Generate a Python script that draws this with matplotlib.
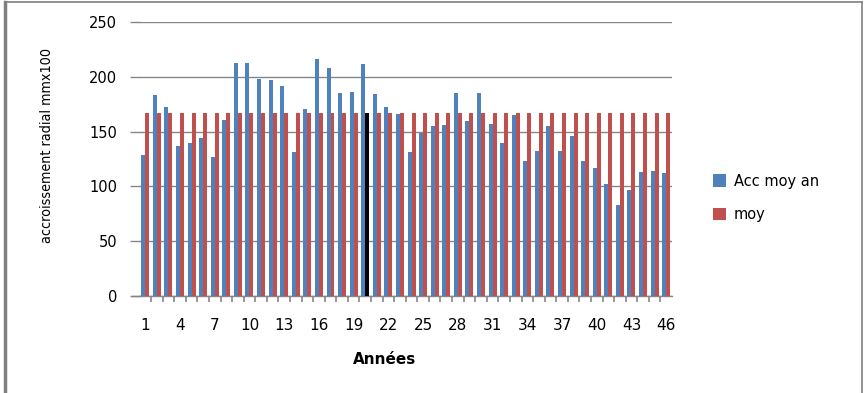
import matplotlib
matplotlib.use("Agg")
import matplotlib.pyplot as plt
from matplotlib.lines import Line2D
import numpy as np

# Annual mean radial growth (mm x 100) and the overall mean
years = list(range(1, 47))
acc_moy_an = [129, 183, 172, 137, 140, 144, 127, 161, 213, 213,
              198, 197, 192, 131, 171, 216, 208, 185, 186, 212,
              184, 172, 166, 131, 149, 155, 156, 185, 160, 185,
              157, 140, 165, 123, 132, 155, 132, 146, 123, 117,
              102, 83, 97, 113, 114, 112]
moy = [167] * 46
highlight_year = 20
y_ticks = [0, 50, 100, 150, 200, 250]
x_labels = list(range(1, 47, 3))

BLUE = "#4F81BD"
RED = "#C0504D"
GRID = "#868686"

fig = plt.figure(figsize=(8.64, 3.93), dpi=100)
ax = fig.add_axes([139.5 / 864, 1 - 296 / 393, (672 - 139.5) / 864, (296 - 22) / 393])

x = np.array(years, dtype=float)
w = 0.345
ax.bar(x - w / 2, acc_moy_an, width=w, color=BLUE, label="Acc moy an", zorder=3)
red_colors = ["black" if yr == highlight_year else RED for yr in years]
ax.bar(x + w / 2, moy, width=w, color=red_colors, label="moy", zorder=3)

ax.set_xlim(0.5, 46.5)
ax.set_ylim(0, 250)

# horizontal grid
ax.set_yticks(y_ticks)
ax.yaxis.grid(True, color=GRID, linewidth=1.0, zorder=0)
ax.set_axisbelow(True)
ax.tick_params(axis="y", length=7, width=1.0, color=GRID, pad=9,
               labelsize=10.5, labelcolor="black")

# category labels every third year; boundary ticks between categories
ax.set_xticks(x_labels)
ax.set_xticklabels([str(v) for v in x_labels])
ax.tick_params(axis="x", which="major", length=0, pad=16, labelsize=11)
ax.set_xticks(np.arange(1.5, 46, 1.0), minor=True)
ax.tick_params(axis="x", which="minor", length=4, width=1.2, color=GRID)

for s in ["left", "right", "top"]:
    ax.spines[s].set_visible(False)
ax.spines["bottom"].set_color(GRID)
ax.spines["bottom"].set_linewidth(1.0)

# extend the baseline to the left like the gridlines
ax.plot([-0.15, 0.5], [0, 0], color=GRID, lw=1.0, clip_on=False, zorder=1)

ax.set_ylabel("accroissement radial mmx100",
              family=["DejaVu Sans"], fontstretch="condensed", fontsize=10.3)
ax.yaxis.set_label_coords(-(139.5 - 47) / (672 - 139.5), 0.551)
ax.yaxis.label.set_horizontalalignment("center")
ax.yaxis.label.set_verticalalignment("center")

fig.text(385 / 864, 1 - 360 / 393, "Années", ha="center", va="center",
         fontsize=11, fontweight="bold")

ax.legend(loc="center left", bbox_to_anchor=(700 / 864, 1 - 198 / 393),
          bbox_transform=fig.transFigure, frameon=False, fontsize=10.5,
          handlelength=0.9, handleheight=0.9, handletextpad=0.5,
          labelspacing=1.3)

# outer frame
fig.add_artist(Line2D([4.5 / 864, 4.5 / 864], [0, 1 - 2 / 393], color="#808080", lw=2.5))
fig.add_artist(Line2D([4.5 / 864, 862 / 864], [1 - 2 / 393, 1 - 2 / 393], color="#808080", lw=1.2))
fig.add_artist(Line2D([862 / 864, 862 / 864], [0, 1 - 2 / 393], color="#808080", lw=1.2))

fig.savefig("out.png", dpi=100)
